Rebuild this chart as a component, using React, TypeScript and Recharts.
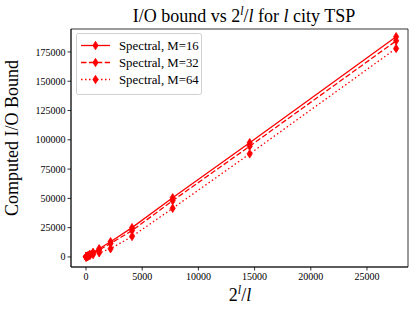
import React from 'react';
import { LineChart, Line, XAxis, YAxis, ReferenceArea } from 'recharts';

const xVals = [4, 6.4, 10.67, 18.29, 32, 56.89, 102.4, 186.18, 341.33, 630.15, 1170.29, 2184.53, 4096, 7710.12, 14563.56, 27594.11];
const m16 = [20, 30, 55, 100, 180, 330, 600, 1150, 2150, 3900, 7000, 13000, 25000, 50500, 97500, 188000];
const m32 = [15, 25, 45, 85, 150, 280, 500, 950, 1800, 3300, 5900, 11500, 22500, 48000, 94500, 184500];
const m64 = [10, 15, 30, 55, 100, 180, 330, 600, 1100, 2000, 3500, 7000, 17500, 41500, 88000, 178000];
const xTicks = [0, 5000, 10000, 15000, 20000, 25000];
const yTicks = [0, 25000, 50000, 75000, 100000, 125000, 150000, 175000];
const seriesNames = ['Spectral, M=16', 'Spectral, M=32', 'Spectral, M=64'];

const data = xVals.map((x, i) => ({ x, m16: m16[i], m32: m32[i], m64: m64[i] }));

const X_DOMAIN = [-1335, 28650];
const Y_DOMAIN = [-8600, 194600];
const FONT = '"Liberation Serif", "DejaVu Serif", serif';
const RED = '#ff0000';
const dashes = [undefined, '5.5 2.4', '1.5 2.5'];

const Diamond = (props: any) => {
  const { cx, cy } = props;
  if (cx == null || cy == null) return null;
  const w = 2.6, h = 4.2;
  return (
    <polygon
      points={`${cx},${cy - h} ${cx + w},${cy} ${cx},${cy + h} ${cx - w},${cy}`}
      fill={RED}
      stroke={RED}
      strokeWidth={0.8}
    />
  );
};

const LegendBox = () => (
  <svg width={126} height={62} style={{ display: 'block' }}>
    <rect x={0.5} y={0.5} width={125} height={61} rx={2} fill="#fff" stroke="#d0d0d0" />
    {seriesNames.map((n, i) => {
      const y = 12.5 + i * 17;
      return (
        <g key={n}>
          <line x1={5} x2={34} y1={y} y2={y} stroke={RED} strokeWidth={1.3} strokeDasharray={dashes[i]} />
          <Diamond cx={19.5} cy={y} />
          <text x={43} y={y + 4} fontFamily={FONT} fontSize={12.8} fill="#000">{n}</text>
        </g>
      );
    })}
  </svg>
);

export default function App() {
  return (
    <div style={{ position: 'absolute', left: 0, top: 0, width: 415, height: 314 }}>
      <LineChart width={415} height={314} data={data} margin={{ top: 29, right: 7, bottom: 0, left: 0 }}>
        <XAxis
          dataKey="x"
          type="number"
          domain={X_DOMAIN}
          ticks={xTicks}
          allowDataOverflow
          height={47}
          tickSize={3.5}
          axisLine={{ stroke: '#000', strokeWidth: 0.8 }}
          tickLine={{ stroke: '#000', strokeWidth: 0.8 }}
          tick={{ fontFamily: FONT, fontSize: 10, fill: '#000' }}
          label={(p: any) => (
            <text x={240} y={301} textAnchor="middle" fontFamily={FONT} fontSize={18} fill="#000">
              2<tspan dy={-7} fontSize={12} fontStyle="italic">l</tspan>
              <tspan dy={7}>/</tspan>
              <tspan fontStyle="italic">l</tspan>
            </text>
          )}
        />
        <YAxis
          type="number"
          domain={Y_DOMAIN}
          ticks={yTicks}
          allowDataOverflow
          width={71}
          tickSize={3.5}
          axisLine={{ stroke: '#000', strokeWidth: 0.8 }}
          tickLine={{ stroke: '#000', strokeWidth: 0.8 }}
          tick={{ fontFamily: FONT, fontSize: 10, fill: '#000' }}
          label={(p: any) => (
            <g>
              <text x={18} y={138} transform="rotate(-90, 18, 138)" textAnchor="middle" fontFamily={FONT} fontSize={18} fill="#000">
                Computed I/O Bound
              </text>
              <text x={244} y={22} textAnchor="middle" fontFamily={FONT} fontSize={18} fill="#000">
                I/O bound vs 2<tspan dy={-7} fontSize={12} fontStyle="italic">l</tspan>
                <tspan dy={7}>/</tspan>
                <tspan fontStyle="italic">l</tspan> for <tspan fontStyle="italic">l</tspan> city TSP
              </text>
            </g>
          )}
        />
        <ReferenceArea
          x1={X_DOMAIN[0]}
          x2={X_DOMAIN[1]}
          y1={Y_DOMAIN[0]}
          y2={Y_DOMAIN[1]}
          ifOverflow="visible"
          fill="none"
          fillOpacity={0}
          stroke="#000"
          strokeWidth={0.8}
        />
        <Line dataKey="m16" stroke={RED} strokeWidth={1.3} dot={<Diamond />} activeDot={false} isAnimationActive={false} />
        <Line dataKey="m32" stroke={RED} strokeWidth={1.3} strokeDasharray="5.5 2.4" dot={<Diamond />} activeDot={false} isAnimationActive={false} />
        <Line dataKey="m64" stroke={RED} strokeWidth={1.3} strokeDasharray="1.5 2.5" dot={<Diamond />} activeDot={false} isAnimationActive={false} />
      </LineChart>
      <div style={{ position: 'absolute', left: 76, top: 33 }}>
        <LegendBox />
      </div>
    </div>
  );
}
